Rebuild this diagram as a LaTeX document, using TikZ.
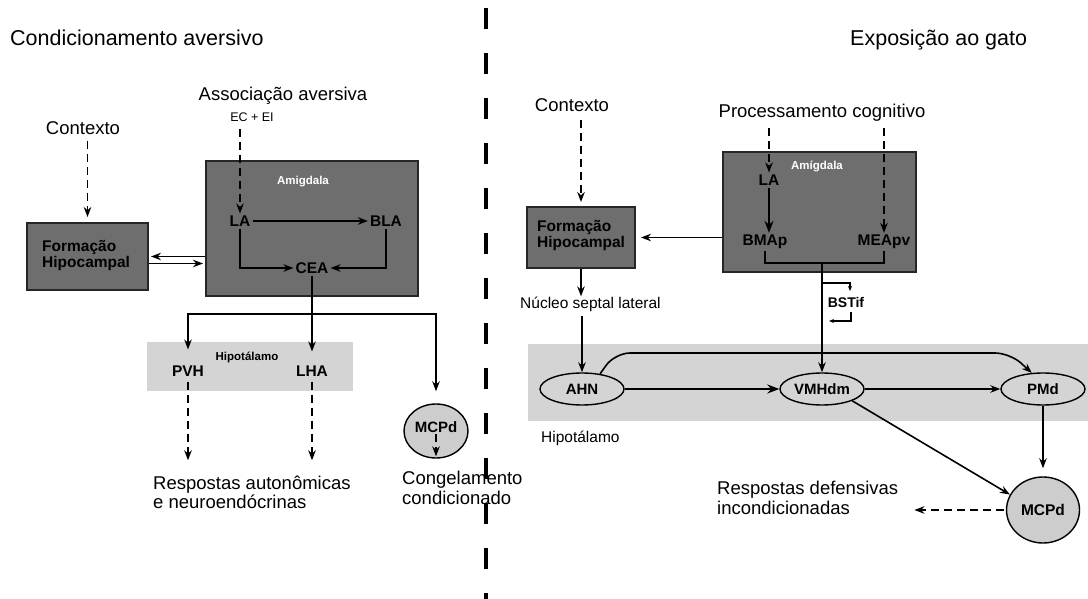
\documentclass[tikz,border=0pt]{standalone}
\usepackage{fontspec}
\setmainfont{Liberation Sans}
\usetikzlibrary{arrows.meta,shapes.geometric}
\definecolor{amygray}{RGB}{110,110,110}
\definecolor{bandgray}{RGB}{212,212,212}
\definecolor{circgray}{RGB}{205,205,205}

\begin{document}
\begin{tikzpicture}[x=1pt,y=-1pt,
    box/.style={draw=black!85, line width=2pt, fill=amygray, inner sep=0pt},
    nuc/.style={font=\bfseries\fontsize{15.5}{16}\selectfont, inner sep=2pt},
    amylbl/.style={font=\bfseries\fontsize{11.5}{13}\selectfont, text=white},
    oval/.style={ellipse, draw, line width=1.4pt, minimum width=84pt, minimum height=32pt,
        inner sep=0pt, font=\bfseries\fontsize{15}{16}\selectfont},
    txt/.style={font=\fontsize{18.5}{19}\selectfont, align=left, inner sep=0pt},
    small/.style={font=\fontsize{15.5}{17}\selectfont, inner sep=0pt},
    arr/.style={-{Stealth[length=10pt,width=7.5pt]}, line width=1.6pt},
    thickarr/.style={-{Stealth[length=12pt,width=9pt]}, line width=2.8pt},
    darr/.style={arr, line width=1.8pt, dash pattern=on 8pt off 5pt}]
    \useasboundingbox (0,0) rectangle (1088,599);

    % divisoria
    \draw[line width=4pt, dash pattern=on 21pt off 24pt] (486,8) -- (486,599);

    %condicionamento aversivo
    \node[anchor=base west, inner sep=0pt, font=\fontsize{21.5}{24}\selectfont] (titL) at (10,46) {Condicionamento aversivo};
    \node[txt] (assoc) at (283,96) {Associação aversiva};
    \node[font=\fontsize{12.5}{14}\selectfont] (ecei) at (252,117) {EC + EI};
    \node[txt] (ctxL) at (83,128) {Contexto};
    \node[box, minimum width=121pt, minimum height=67pt] (forL) at (87.5,256.5) {};
    \node[nuc, align=left, anchor=west] (forLtxt) at (40,256) {Formação\\Hipocampal};
    \node[box, minimum width=212pt, minimum height=135pt] (amyL) at (312,228.5) {};
    \node[amylbl] (amyLlbl) at (303,182) {Amigdala};
    \node[nuc] (LA) at (240,221) {LA};
    \node[nuc] (BLA) at (386,221) {BLA};
    \node[nuc] (CEA) at (312,268) {CEA};
    \fill[bandgray] (147,342) rectangle (353,391);
    \node[font=\bfseries\fontsize{11.5}{13}\selectfont] (hipoL) at (247,357) {Hipotálamo};
    \node[nuc] (PVH) at (188,371) {PVH};
    \node[nuc] (LHA) at (312,371) {LHA};
    \node[ellipse, draw, line width=1.4pt, fill=circgray, minimum width=64pt, minimum height=54pt,
        inner sep=0pt, font=\bfseries\fontsize{15}{16}\selectfont] (MCPdL) at (436,431) {\raisebox{7pt}{MCPd}};
    \node[txt, anchor=base west] (respL) at (153,508) {Respostas autonômicas\\e neuroendócrinas};
    \node[txt, anchor=base west, font=\fontsize{18.5}{20}\selectfont] (congL) at (402,504) {Congelamento\\condicionado};

    \draw[darr, shorten <=6pt, shorten >=5pt] (ctxL.south -| forL.north) -- (forL.north);
    \draw[darr, shorten <=4pt] (ecei.south -| LA.north) -- (LA.north);
    \draw[arr] (LA) -- (BLA);
    \draw[arr] (LA.south) |- (CEA.west);
    \draw[arr] (BLA.south) |- (CEA.east);
    \coordinate (hl) at (amyL.west |- forL.east);
    \draw[arr, shorten >=2pt] (hl) -- (forL.east);
    \draw[arr, shorten >=2pt] ([yshift=-7pt]forL.east) -- ([yshift=-7pt]hl);
    \coordinate (split) at (CEA.south |- 0,314);
    \draw[line width=1.6pt] (CEA.south) -- (split);
    \draw[arr, shorten >=12pt] (split) -- (LHA.north);
    \draw[arr, shorten >=14pt] (split) -| (PVH.north);
    \draw[arr, shorten >=12pt] (split) -| (MCPdL.north);
    \draw[darr, shorten <=3pt, shorten >=15pt] (PVH.south) -- (PVH.south |- respL.north);
    \draw[darr, shorten <=3pt, shorten >=15pt] (LHA.south) -- (LHA.south |- respL.north);
    \draw[darr, shorten >=14pt] ([yshift=-3pt]MCPdL.center) -- (MCPdL.center |- congL.north);

    %exposicao ao gato
    \node[anchor=base west, inner sep=0pt, font=\fontsize{21.5}{24}\selectfont] (titR) at (850,46) {Exposição ao gato};
    \node[txt] (ctxR) at (572,105) {Contexto};
    \node[txt] (procR) at (822,113) {Processamento cognitivo};
    \node[box, minimum width=108pt, minimum height=61pt] (forR) at (581,237.5) {};
    \node[nuc, align=left, anchor=west] (forRtxt) at (535,236) {Formação\\Hipocampal};
    \node[box, minimum width=193pt, minimum height=120pt] (amyR) at (819.5,212) {};
    \node[amylbl] (amyRlbl) at (817,167) {Amígdala};
    \node[nuc] (LAr) at (769,180) {LA};
    \node[nuc] (BMAp) at (765,242) {BMAp};
    \node[nuc] (MEApv) at (884,242) {MEApv};
    \node[small, anchor=base west] (nucleo) at (520,308) {Núcleo septal lateral};
    \node[font=\bfseries\fontsize{14}{16}\selectfont] (BST) at (846,302) {BSTif};
    \fill[bandgray] (528,344) rectangle (1088,421);
    \node[oval] (AHN) at (582,389) {AHN};
    \node[oval] (VMH) at (822,389) {VMHdm};
    \node[oval] (PMd) at (1043,389) {PMd};
    \node[small, anchor=base west] (hipoR) at (541,442) {Hipotálamo};
    \node[ellipse, draw, line width=1.4pt, fill=circgray, minimum width=73pt, minimum height=66pt,
        inner sep=0pt, font=\bfseries\fontsize{15.5}{16}\selectfont] (MCPdR) at (1043,510) {MCPd};
    \node[txt, anchor=base west, font=\fontsize{18.5}{20}\selectfont] (respR) at (717,514) {Respostas defensivas\\incondicionadas};

    \draw[darr, shorten <=8pt, shorten >=4pt] (ctxR.south -| forR.north) -- (forR.north);
    \draw[darr, shorten <=6pt] (procR.south -| LAr.north) -- (LAr.north);
    \draw[darr, shorten <=6pt] (procR.south -| MEApv.north) -- (MEApv.north);
    \draw[thickarr] (LAr.south) -- (LAr.south |- BMAp.north);
    \draw[arr, shorten >=5pt] (amyR.west |- forR.east) -- (forR.east);
    \coordinate (junc) at (822,263);
    \draw[line width=2.8pt] (BMAp.south) |- (junc) -| (MEApv.south);
    \draw[arr] (junc) -- (VMH.north);
    \draw[-{Stealth[length=5pt,width=4pt]}, line width=1.1pt] (822,283) -| (850,291);
    \draw[-{Stealth[length=5pt,width=4pt]}, line width=1.1pt] (851,312) |- (829,321);
    \draw[arr] (forR.south) -- (forR.south |- nucleo.north);
    \draw[arr, shorten <=5pt] (AHN.north |- nucleo.south) -- (AHN.north);
    \draw[thickarr] (AHN) -- (VMH);
    \draw[arr] (VMH) -- (PMd);
    \draw[arr, rounded corners=15pt] (AHN.40) -- (615,353) -- (1010,353) -- (PMd.125);
    \draw[arr] (VMH.south east) -- (MCPdR.155);
    \draw[arr, shorten >=8pt] (PMd.south) -- (MCPdR.north);
    \draw[darr, shorten <=2pt, shorten >=16pt] (MCPdR.west) -- (respR.east |- MCPdR.west);
\end{tikzpicture}
\end{document}
